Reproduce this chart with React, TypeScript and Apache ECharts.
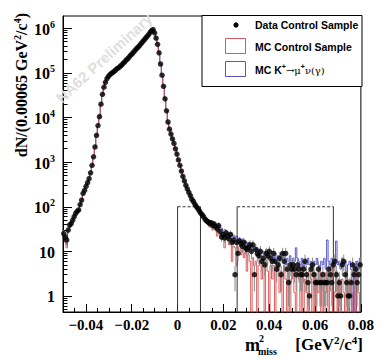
import React, { useEffect, useRef } from "react";
import * as echarts from "echarts";

// Histogram binning (GeV^2/c^4)
const X_MIN = -0.05;
const X_MAX = 0.08;
const BIN_WIDTH = 0.00065;
// y axis range (log10 of counts)
const Y_MIN_LOG = -0.359;
const Y_MAX_LOG = 6.276;

// Data control sample: counts per bin (200 bins)
const dataCounts = [
  25, 21, 18, 30, 39, 42, 50, 60, 71, 79,
  85, 112, 141, 200, 234, 288, 347, 427, 575, 851,
  1318, 2188, 3981, 6607, 10470, 19950, 33110, 47860, 61660, 74130,
  83180, 91200, 97720, 102300, 109600, 117500, 125900, 131800, 141300, 151400,
  166000, 177800, 195000, 208900, 229100, 251200, 269200, 295100, 323600, 354800,
  380200, 416900, 457100, 501200, 549500, 602600, 660700, 724400, 812800, 891300,
  933300, 794300, 602600, 436500, 281800, 158500, 89130, 50120, 26300, 14130,
  7943, 5495, 4266, 3311, 2630, 1995, 1514, 1122, 851, 631,
  479, 380, 302, 251, 209, 178, 148, 132, 115, 102,
  91, 81, 72, 66, 59, 52, 48, 45, 42, 44,
  38, 41, 36, 32, 38, 28, 21, 24, 20, 26,
  22, 19, 24, 16, 18, 3, 16, 9, 17, 15,
  13, 16, 12, 11, 12, 14, 10, 14, 3, 11,
  9, 8, 10, 6, 7, 5, 9, 8, 10, 7,
  6, 9, 6, 4, 5, 7, 3, 9, 6, 9,
  4, 2, 5, 4, 5, 4, 3, 5, 4, 3,
  3, 4, 6, 3, 2, 1, 4, 5, 3, 2,
  2, 4, 2, 2, 3, 2, 2, 2, 4, 3,
  2, 5, 6, 3, 1, 2, 1, 5, 6, 3,
  2, 1, 1, 2, 5, 3, 4, 2, 3, 5,
];

// MC control sample (red)
const mcControl = [
  22, 16, 12, 28, 35, 42, 48, 58, 70, 80,
  86, 110, 140, 195, 230, 290, 345, 430, 570, 840,
  1300, 2150, 3900, 6500, 10300, 19500, 32500, 47000, 61000, 74000,
  83000, 91000, 97500, 102000, 109000, 117000, 126000, 132000, 141000, 151000,
  166000, 178000, 195000, 209000, 229000, 251000, 269000, 295000, 324000, 355000,
  380000, 417000, 457000, 501000, 550000, 603000, 661000, 724000, 813000, 891000,
  933000, 794000, 603000, 437000, 282000, 159000, 89000, 50000, 26300, 14100,
  7900, 5450, 4200, 3250, 2580, 1950, 1480, 1090, 820, 600,
  455, 360, 285, 235, 195, 165, 137, 120, 104, 92,
  82, 72, 64, 58, 52, 46, 42, 40, 35, 38,
  30, 34, 31, 22, 30, 24, 19, 22, 12, 20,
  18, 14, 16, 6, 13, 12, 4.8, 10, 13, 8.4,
  11, 7.2, 9.6, 3.6, 8.4, 6, 0, 7.2, 4.8, 6,
  0, 4.8, 6, 2.4, 4.8, 0, 6, 3.6, 0, 4.8,
  2.4, 4.8, 0, 3.6, 4.8, 1.2, 3.6, 0, 4.8, 2.4,
  0, 3.6, 0, 2.4, 4.8, 1.2, 0, 3.6, 2.4, 0,
  4.8, 0, 2.4, 1.2, 0, 3.6, 2.4, 0, 3.6, 0,
  2.4, 1.2, 3.6, 0, 2.4, 0, 1.2, 3.6, 0, 2.4,
  4.8, 0, 1.2, 3.6, 0, 2.4, 0, 2.4, 1.2, 0,
  3.6, 0, 2.4, 1.2, 0, 2.4, 0, 3.6, 1.2, 0,
];

// MC K+ -> mu+ nu (gamma) (blue)
const mcKmu2 = [
  20, 18, 14, 30, 38, 44, 50, 60, 72, 80,
  87, 112, 142, 200, 236, 290, 350, 430, 580, 860,
  1330, 2200, 4000, 6650, 10500, 20000, 33200, 48000, 61800, 74200,
  83200, 91200, 97700, 102300, 109600, 117500, 125900, 131800, 141300, 151400,
  166000, 177800, 195000, 208900, 229100, 251200, 269200, 295100, 323600, 354800,
  380200, 416900, 457100, 501200, 549500, 602600, 660700, 724400, 812800, 891300,
  933300, 794300, 602600, 436500, 281800, 158500, 89130, 50120, 26300, 14130,
  7950, 5520, 4300, 3350, 2660, 2030, 1540, 1150, 875, 650,
  495, 395, 315, 262, 218, 186, 157, 140, 122, 108,
  97, 86, 77, 70, 63, 57, 55, 52, 50, 47,
  44, 46, 40, 38, 39, 35, 33, 30, 31, 28,
  27, 24, 26, 22, 23, 20, 22, 18, 20, 16,
  19, 15, 17, 13, 16, 12, 14, 11, 13, 10,
  12, 7, 11, 9, 10, 8, 11, 7, 9, 8,
  10, 6, 9, 7, 8, 6, 9, 7, 8, 5,
  7, 6, 8, 5, 7, 6, 12, 7, 6, 5,
  7, 4, 6, 5, 7, 5, 6, 4, 6, 5,
  7, 5, 4, 6, 5, 7, 4, 18, 6, 5,
  7, 4, 6, 17, 5, 6, 4, 7, 5, 6,
  3, 5, 6, 4, 0, 5, 0, 6, 4, 7,
];

// Axis tick labels
const xMajorTicks = [-0.04, -0.02, 0, 0.02, 0.04, 0.06, 0.08];
const yMajorDecades = [0, 1, 2, 3, 4, 5, 6];

// Signal regions (GeV^2/c^4) and box height (counts)
const signalRegions = [
  [0, 0.01],
  [0.026, 0.068],
];
const regionLevel = 100;

const RED = "#cf3a3a";
const BLUE = "#3a3ac8";
const SERIF = '"Liberation Serif", "Times New Roman", serif';
const SANS = '"Liberation Sans", Arial, sans-serif';

const binCenter = (i: number) => X_MIN + (i + 0.5) * BIN_WIDTH;
const toLog = (v: number) => (v > 0 ? Math.log10(v) : Y_MIN_LOG - 2);

const xMinorTicks: number[] = [];
for (let i = 0; i <= 26; i++) {
  const v = Math.round((X_MIN + i * 0.005) * 10000) / 10000;
  if (!xMajorTicks.some((m) => Math.abs(m - v) < 1e-9)) xMinorTicks.push(v);
}
const yMinorTicks: number[] = [];
for (let n = -1; n <= 6; n++) {
  for (let k = 2; k <= 9; k++) {
    const l = Math.log10(k * Math.pow(10, n));
    if (l > Y_MIN_LOG && l < Y_MAX_LOG) yMinorTicks.push(l);
  }
}

export default function App() {
  const ref = useRef<HTMLDivElement>(null);
  useEffect(() => {
    if (!ref.current) return;
    const chart = echarts.init(ref.current, null, { renderer: "svg" });

    const histo = (arr: number[]) => arr.map((v, i) => [binCenter(i), toLog(v)]);
    const points = dataCounts
      .map((n, i) => (n > 0 ? [binCenter(i), Math.log10(n)] : null))
      .filter(Boolean);
    const errs = dataCounts
      .map((n, i) => {
        if (n <= 0) return null;
        const s = Math.sqrt(n);
        return [binCenter(i), n - s > 0 ? Math.log10(n - s) : Y_MIN_LOG - 1, Math.log10(n + s)];
      })
      .filter(Boolean);
    const regions = signalRegions.map(([a, b]) => [a, b, Math.log10(regionLevel)]);

    const xFmt = (v: number) => {
      if (Math.abs(v) < 1e-9) return "0";
      const s = Math.abs(v).toFixed(2);
      return v < 0 ? "\u2212" + s : s;
    };
    const yFmt = (v: number) => {
      const n = Math.round(v);
      if (n === 0) return "{b|1}";
      if (n === 1) return "{b|10}";
      return "{b|10}{s|" + n + "}";
    };

    const option: any = {
      animation: false,
      grid: {
        left: 63,
        right: 15,
        top: 16,
        bottom: 49,
        containLabel: false,
        show: true,
        borderColor: "#000",
        borderWidth: 1,
        backgroundColor: "transparent",
      },
      xAxis: [
        {
          type: "value",
          min: X_MIN,
          max: X_MAX,
          position: "bottom",
          axisLine: { show: true, onZero: false, lineStyle: { color: "#000", width: 1 } },
          axisTick: {
            show: true,
            inside: true,
            length: 8,
            customValues: xMajorTicks,
            lineStyle: { color: "#000" },
          },
          axisLabel: {
            show: true,
            customValues: xMajorTicks,
            formatter: xFmt,
            fontFamily: SERIF,
            fontWeight: "bold",
            fontSize: 15,
            color: "#000",
            margin: 5,
          },
          splitLine: { show: false },
        },
        {
          type: "value",
          min: X_MIN,
          max: X_MAX,
          position: "bottom",
          offset: 0,
          axisLine: { show: false, onZero: false },
          axisTick: {
            show: true,
            inside: true,
            length: 4,
            customValues: xMinorTicks,
            lineStyle: { color: "#000" },
          },
          axisLabel: { show: false },
          splitLine: { show: false },
        },
      ],
      yAxis: [
        {
          type: "value",
          min: Y_MIN_LOG,
          max: Y_MAX_LOG,
          position: "left",
          axisLine: { show: true, onZero: false, lineStyle: { color: "#000", width: 1 } },
          axisTick: {
            show: true,
            inside: true,
            length: 9,
            customValues: yMajorDecades,
            lineStyle: { color: "#000" },
          },
          axisLabel: {
            show: true,
            customValues: yMajorDecades,
            formatter: yFmt,
            margin: 8,
            rich: {
              b: { fontFamily: SERIF, fontWeight: "bold", fontSize: 16, color: "#000", lineHeight: 18, verticalAlign: "bottom" },
              s: { fontFamily: SERIF, fontWeight: "bold", fontSize: 10, color: "#000", lineHeight: 10, verticalAlign: "top" },
            },
          },
          splitLine: { show: false },
        },
        {
          type: "value",
          min: Y_MIN_LOG,
          max: Y_MAX_LOG,
          position: "left",
          offset: 0,
          axisLine: { show: false, onZero: false },
          axisTick: {
            show: true,
            inside: true,
            length: 4.5,
            customValues: yMinorTicks,
            lineStyle: { color: "#000" },
          },
          axisLabel: { show: false },
          splitLine: { show: false },
        },
      ],
      series: [
        {
          type: "line",
          name: "MC K",
          data: histo(mcKmu2),
          step: "middle",
          symbol: "none",
          showSymbol: false,
          clip: true,
          silent: true,
          lineStyle: { color: BLUE, width: 1, opacity: 0.85 },
          z: 2,
        },
        {
          type: "line",
          name: "MC Control",
          data: histo(mcControl),
          step: "middle",
          symbol: "none",
          showSymbol: false,
          clip: true,
          silent: true,
          lineStyle: { color: RED, width: 1, opacity: 0.8 },
          z: 3,
        },
        {
          type: "custom",
          name: "regions",
          data: regions,
          clip: true,
          silent: true,
          encode: { x: [0, 1], y: 2 },
          renderItem: (_p: any, api: any) => {
            const a = api.value(0);
            const b = api.value(1);
            const lv = api.value(2);
            const pa = api.coord([a, lv]);
            const pb = api.coord([b, lv]);
            const bottom = api.coord([a, Y_MIN_LOG])[1];
            const st = { stroke: "#333", lineWidth: 1 };
            return {
              type: "group",
              children: [
                { type: "line", shape: { x1: pa[0], y1: bottom, x2: pa[0], y2: pa[1] }, style: st },
                { type: "line", shape: { x1: pa[0], y1: pa[1], x2: pb[0], y2: pb[1] }, style: { ...st, lineDash: [3, 2] } },
                { type: "line", shape: { x1: pb[0], y1: pb[1], x2: pb[0], y2: bottom }, style: st },
              ],
            };
          },
          z: 4,
        },
        {
          type: "custom",
          name: "errors",
          data: errs,
          clip: true,
          silent: true,
          encode: { x: 0, y: [1, 2] },
          renderItem: (_p: any, api: any) => {
            const x = api.value(0);
            const p1 = api.coord([x, api.value(1)]);
            const p2 = api.coord([x, api.value(2)]);
            return {
              type: "line",
              shape: { x1: p1[0], y1: p1[1], x2: p2[0], y2: p2[1] },
              style: { stroke: "#8a8a8a", lineWidth: 1 },
            };
          },
          z: 5,
        },
        {
          type: "scatter",
          name: "Data",
          data: points,
          symbol: "circle",
          symbolSize: 5.5,
          silent: true,
          itemStyle: { color: "#000" },
          z: 6,
        },
      ],
      graphic: [
        {
          type: "text",
          x: 104,
          y: 58,
          rotation: 0.74,
          z: 1,
          silent: true,
          style: {
            text: "NA62 Preliminary",
            fontFamily: SANS,
            fontWeight: "bold",
            fontSize: 15,
            fill: "#dedede",
            align: "center",
            textAlign: "center",
            verticalAlign: "middle",
            textVerticalAlign: "middle",
          },
        },
        {
          type: "text",
          x: 21,
          y: 13,
          rotation: Math.PI / 2,
          z: 50,
          style: {
            text: "dN/(0.00065 GeV{s|2}/c{s|4})",
            fontFamily: SERIF,
            fontWeight: "bold",
            fontSize: 16,
            fill: "#000",
            lineHeight: 18,
            align: "right",
            textAlign: "right",
            verticalAlign: "middle",
            textVerticalAlign: "middle",
            rich: {
              s: { fontFamily: SERIF, fontWeight: "bold", fontSize: 10, fill: "#000", lineHeight: 10, verticalAlign: "top" },
            },
          },
        },
        {
          type: "text",
          x: 245,
          y: 345,
          z: 50,
          style: { text: "m", fontFamily: SERIF, fontWeight: "bold", fontSize: 18, fill: "#000", verticalAlign: "middle", textVerticalAlign: "middle" },
        },
        {
          type: "text",
          x: 259,
          y: 338,
          z: 50,
          style: { text: "2", fontFamily: SERIF, fontWeight: "bold", fontSize: 10, fill: "#000", verticalAlign: "middle", textVerticalAlign: "middle" },
        },
        {
          type: "text",
          x: 258,
          y: 351,
          z: 50,
          style: { text: "miss", fontFamily: SERIF, fontWeight: "bold", fontSize: 10, fill: "#000", verticalAlign: "middle", textVerticalAlign: "middle" },
        },
        {
          type: "text",
          x: 363,
          y: 344,
          z: 50,
          style: {
            text: "[GeV{s|2}/c{s|4}]",
            fontFamily: SERIF,
            fontWeight: "bold",
            fontSize: 17,
            fill: "#000",
            lineHeight: 19,
            align: "right",
            textAlign: "right",
            verticalAlign: "middle",
            textVerticalAlign: "middle",
            rich: {
              s: { fontFamily: SERIF, fontWeight: "bold", fontSize: 11, fill: "#000", lineHeight: 11, verticalAlign: "top" },
            },
          },
        },
        // Legend
        {
          type: "rect",
          z: 100,
          shape: { x: 202, y: 15.5, width: 160, height: 71 },
          style: { fill: "#fff", stroke: "#000", lineWidth: 1 },
        },
        {
          type: "circle",
          z: 101,
          shape: { cx: 236, cy: 25, r: 2.6 },
          style: { fill: "#000" },
        },
        {
          type: "rect",
          z: 101,
          shape: { x: 225.5, y: 38.5, width: 20, height: 15 },
          style: { fill: "#fff", stroke: "#d35a62", lineWidth: 1 },
        },
        {
          type: "rect",
          z: 101,
          shape: { x: 225.5, y: 61.5, width: 20, height: 15 },
          style: { fill: "#fff", stroke: "#5757c4", lineWidth: 1 },
        },
        {
          type: "text",
          x: 255,
          y: 25,
          z: 101,
          style: { text: "Data Control Sample", fontFamily: SANS, fontWeight: "bold", fontSize: 10.5, fill: "#000", verticalAlign: "middle", textVerticalAlign: "middle" },
        },
        {
          type: "text",
          x: 255,
          y: 47,
          z: 101,
          style: { text: "MC Control Sample", fontFamily: SANS, fontWeight: "bold", fontSize: 10.5, fill: "#000", verticalAlign: "middle", textVerticalAlign: "middle" },
        },
        {
          type: "text",
          x: 255,
          y: 70,
          z: 101,
          style: {
            text: "{t|MC K}{sup|+}{sym|\u2192\u03bc}{sup|+}{sym|\u03bd(\u03b3)}",
            fontFamily: SANS,
            fontWeight: "bold",
            fontSize: 10.5,
            fill: "#000",
            verticalAlign: "middle",
            textVerticalAlign: "middle",
            rich: {
              t: { fontFamily: SANS, fontWeight: "bold", fontSize: 10.5, fill: "#000", lineHeight: 14, verticalAlign: "middle" },
              sup: { fontFamily: SANS, fontWeight: "bold", fontSize: 7, fill: "#000", lineHeight: 8, verticalAlign: "top" },
              sym: { fontFamily: '"DejaVu Serif", serif', fontWeight: "normal", fontSize: 10, fill: "#000", lineHeight: 14, verticalAlign: "middle" },
            },
          },
        },
      ],
    };

    chart.setOption(option);
    return () => chart.dispose();
  }, []);

  return (
    <div
      ref={ref}
      style={{ position: "fixed", left: 0, top: 0, width: 377, height: 361, background: "#fff" }}
    />
  );
}
